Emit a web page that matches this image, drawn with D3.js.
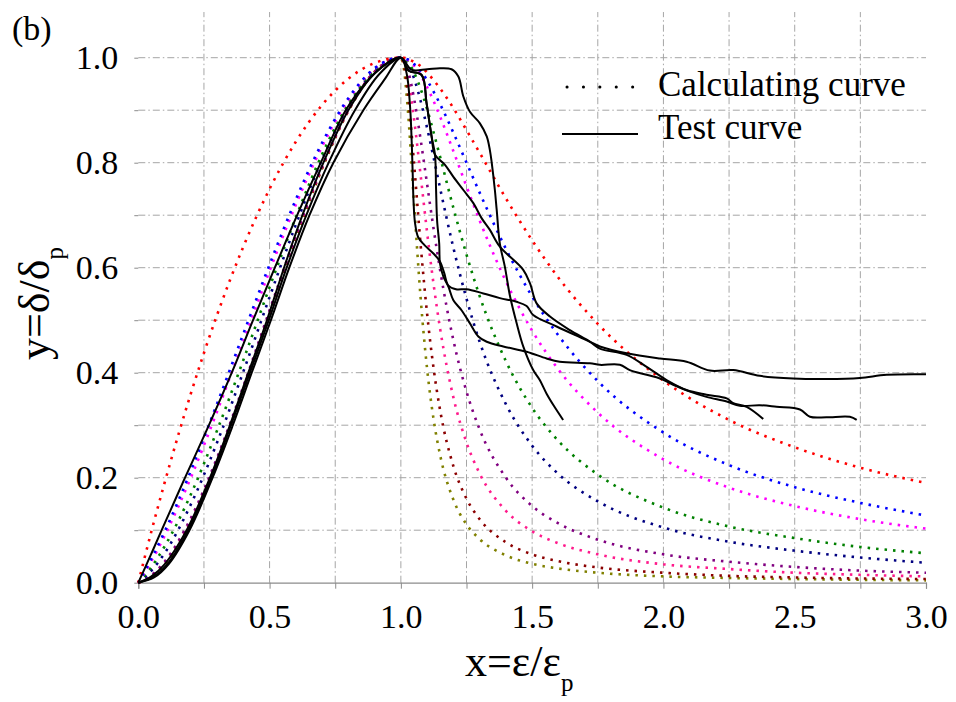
<!DOCTYPE html>
<html>
<head>
<meta charset="utf-8">
<script src="https://cdn.jsdelivr.net/npm/d3@7"></script>
<style>
  body { margin: 0; background: #fff; }
  svg text { font-family: "Liberation Serif", Tinos, "Times New Roman", Times, "DejaVu Serif", serif !important; fill: #000; }
</style>
</head>
<body>
<div id="chart"></div>
<script>
// axis ticks
const xGridVals = [0, 0.25, 0.5, 0.75, 1, 1.25, 1.5, 1.75, 2, 2.25, 2.5, 2.75, 3];
const xTickLabels = ["0.0", "0.5", "1.0", "1.5", "2.0", "2.5", "3.0"];
const yGridVals = [0, 0.1, 0.2, 0.3, 0.4, 0.5, 0.6, 0.7, 0.8, 0.9, 1.0];
const yTickLabels = ["0.0", "0.2", "0.4", "0.6", "0.8", "1.0"];

// calculating curves: rising branch sampled at ascX, falling branch at descX
const ascX = [0, 0.05, 0.1, 0.2, 0.3, 0.4, 0.5, 0.6, 0.7, 0.8, 0.9, 1.0];
const descX = [1.01, 1.025, 1.05, 1.075, 1.1, 1.125, 1.15, 1.2, 1.25, 1.3, 1.4, 1.5, 1.6, 1.75, 2.0, 2.25, 2.5, 2.75, 3.0];

const calcNames = ["red", "blue", "magenta", "green", "navy", "purple", "pink", "maroon", "olive"];
const calcColors = ["#ff0000", "#0000ff", "#ff00ff", "#008000", "#000080", "#800080", "#ff1a8c", "#8b0000", "#808000"];

const redUp     = [0, 0.098, 0.19, 0.36, 0.51, 0.64, 0.75, 0.84, 0.91, 0.96, 0.99, 1];
const blueUp    = [0, 0.046, 0.097, 0.213, 0.341, 0.474, 0.606, 0.730, 0.838, 0.923, 0.980, 1];
const magentaUp = [0, 0.041, 0.089, 0.200, 0.326, 0.460, 0.594, 0.720, 0.831, 0.920, 0.979, 1];
const greenUp   = [0, 0.030, 0.069, 0.168, 0.290, 0.424, 0.563, 0.696, 0.816, 0.912, 0.977, 1];
const navyUp    = [0, 0.023, 0.056, 0.149, 0.267, 0.402, 0.544, 0.682, 0.806, 0.907, 0.975, 1];
const purpleUp  = [0, 0.014, 0.040, 0.123, 0.238, 0.374, 0.519, 0.662, 0.793, 0.901, 0.973, 1];
const pinkUp    = [0, 0.013, 0.038, 0.119, 0.234, 0.369, 0.515, 0.660, 0.792, 0.900, 0.973, 1];
const maroonUp  = [0, 0.012, 0.036, 0.117, 0.231, 0.366, 0.513, 0.658, 0.790, 0.899, 0.973, 1];
const oliveUp   = [0, 0.011, 0.034, 0.114, 0.228, 0.364, 0.510, 0.656, 0.789, 0.899, 0.973, 1];

const redDown     = [1.0, 0.998, 0.992, 0.984, 0.972, 0.957, 0.941, 0.904, 0.862, 0.819, 0.732, 0.652, 0.581, 0.493, 0.385, 0.310, 0.258, 0.219, 0.190];
const blueDown    = [0.999, 0.997, 0.988, 0.975, 0.957, 0.935, 0.911, 0.857, 0.800, 0.743, 0.636, 0.545, 0.471, 0.384, 0.286, 0.224, 0.182, 0.152, 0.128];
const magentaDown = [0.999, 0.996, 0.985, 0.967, 0.944, 0.917, 0.887, 0.822, 0.755, 0.690, 0.574, 0.480, 0.406, 0.324, 0.235, 0.181, 0.146, 0.121, 0.103];
const greenDown   = [0.999, 0.993, 0.972, 0.941, 0.902, 0.857, 0.810, 0.714, 0.625, 0.546, 0.422, 0.333, 0.270, 0.206, 0.143, 0.107, 0.085, 0.068, 0.056];
const navyDown    = [0.998, 0.990, 0.961, 0.918, 0.866, 0.809, 0.750, 0.638, 0.541, 0.459, 0.340, 0.261, 0.207, 0.155, 0.105, 0.078, 0.061, 0.048, 0.038];
const purpleDown  = [0.997, 0.979, 0.923, 0.845, 0.759, 0.673, 0.594, 0.462, 0.364, 0.292, 0.200, 0.146, 0.113, 0.082, 0.054, 0.040, 0.030, 0.023, 0.019];
const pinkDown    = [0.995, 0.968, 0.884, 0.777, 0.667, 0.567, 0.482, 0.353, 0.267, 0.208, 0.137, 0.098, 0.075, 0.054, 0.035, 0.026, 0.019, 0.015, 0.012];
const maroonDown  = [0.990, 0.940, 0.800, 0.645, 0.512, 0.407, 0.327, 0.222, 0.160, 0.121, 0.077, 0.054, 0.041, 0.029, 0.019, 0.013, 0.010, 0.008, 0.007];
const oliveDown   = [0.984, 0.911, 0.724, 0.544, 0.407, 0.310, 0.242, 0.158, 0.111, 0.083, 0.052, 0.036, 0.027, 0.019, 0.012, 0.009, 0.007, 0.0055, 0.0045];

const calcUp = [redUp, blueUp, magentaUp, greenUp, navyUp, purpleUp, pinkUp, maroonUp, oliveUp];
const calcDown = [redDown, blueDown, magentaDown, greenDown, navyDown, purpleDown, pinkDown, maroonDown, oliveDown];

// test curves, [x, y] pairs
const testA = [[0,0],[0.045,0.05],[0.089,0.1],[0.178,0.2],[0.269,0.3],[0.356,0.4],[0.437,0.5],[0.52,0.6],[0.605,0.7],[0.695,0.8],[0.79,0.9],[0.88,0.96],[0.95,0.99],[1,1],
  [1.041,0.977],[1.1,0.978],[1.149,0.98],[1.193,0.978],[1.219,0.964],[1.238,0.926],[1.263,0.897],[1.301,0.875],[1.327,0.85],[1.339,0.824],[1.346,0.8],[1.358,0.748],[1.365,0.71],[1.377,0.646],[1.396,0.602],[1.416,0.545],[1.441,0.494],[1.466,0.45],[1.504,0.405],[1.529,0.386],[1.555,0.36],[1.585,0.335],[1.618,0.31]];
const testB = [[0,0],[0.05,0.012],[0.1,0.035],[0.184,0.1],[0.273,0.2],[0.349,0.3],[0.419,0.4],[0.49,0.5],[0.555,0.6],[0.625,0.7],[0.705,0.8],[0.8,0.9],[0.9,0.97],[1,1],
  [1.022,0.97],[1.035,0.907],[1.041,0.843],[1.045,0.78],[1.048,0.729],[1.054,0.685],[1.066,0.658],[1.09,0.643],[1.124,0.627],[1.149,0.612],[1.165,0.59],[1.181,0.566],[1.21,0.559],[1.25,0.559],[1.314,0.551],[1.377,0.542],[1.441,0.535],[1.479,0.527],[1.504,0.51],[1.593,0.488],[1.72,0.459],[1.758,0.45],[1.86,0.437],[1.987,0.427],[2.088,0.421],[2.177,0.404],[2.266,0.405],[2.367,0.394],[2.494,0.389],[2.621,0.388],[2.748,0.39],[2.85,0.396],[3.0,0.397]];
const testC = [[0,0],[0.06,0.012],[0.11,0.035],[0.19,0.1],[0.278,0.2],[0.353,0.3],[0.425,0.4],[0.497,0.5],[0.565,0.6],[0.64,0.7],[0.725,0.8],[0.825,0.9],[0.92,0.97],[1,1],
  [1.03,0.975],[1.079,0.967],[1.098,0.913],[1.117,0.85],[1.13,0.815],[1.168,0.796],[1.2,0.773],[1.238,0.748],[1.276,0.723],[1.308,0.694],[1.339,0.672],[1.377,0.64],[1.466,0.596],[1.492,0.57],[1.517,0.532],[1.568,0.507],[1.644,0.481],[1.72,0.459],[1.758,0.446],[1.86,0.434],[1.936,0.411],[2.012,0.386],[2.088,0.367],[2.164,0.358],[2.241,0.351],[2.266,0.342],[2.317,0.335],[2.38,0.312]];
const testD = [[0,0],[0.06,0.01],[0.115,0.035],[0.195,0.1],[0.283,0.2],[0.36,0.3],[0.432,0.4],[0.505,0.5],[0.575,0.6],[0.652,0.7],[0.743,0.8],[0.857,0.9],[0.94,0.96],[1,1],
  [1.03,0.975],[1.079,0.967],[1.098,0.913],[1.117,0.85],[1.13,0.815],[1.134,0.75],[1.138,0.69],[1.146,0.646],[1.149,0.608],[1.162,0.583],[1.181,0.564],[1.2,0.538],[1.231,0.519],[1.263,0.494],[1.295,0.469],[1.327,0.459],[1.39,0.45],[1.479,0.44],[1.555,0.427],[1.605,0.421],[1.72,0.418],[1.758,0.415],[1.834,0.415],[1.872,0.405],[1.936,0.396],[1.987,0.389],[2.037,0.377],[2.101,0.364],[2.164,0.354],[2.241,0.345],[2.291,0.337],[2.367,0.338],[2.431,0.335],[2.52,0.33],[2.558,0.316],[2.621,0.315],[2.71,0.316],[2.736,0.31]];
const testCurves = [testA, testB, testC, testD];

const legendLabels = ["Calculating curve", "Test curve"];

const width = 956, height = 702;
const gridTop = 1.087;   // vertical grid lines run a little above y = 1
const serif = "'Liberation Serif', Tinos, 'Times New Roman', Times, 'DejaVu Serif', serif";

const x = d3.scaleLinear().domain([0, 3]).range([138.3, 926]);
const y = d3.scaleLinear().domain([0, 1]).range([582.7, 57.7]);

const svg = d3.select("#chart").append("svg")
  .attr("width", width)
  .attr("height", height)
  .attr("font-family", serif)
  .style("background", "#fff");

// grid, dash-dot gray
const grid = svg.append("g")
  .attr("stroke", "#a6a6a6")
  .attr("stroke-width", 1)
  .attr("stroke-dasharray", "7,3,1.5,3");

grid.selectAll("line.v")
  .data(xGridVals.filter(d => d > 0 && d < 3))
  .join("line")
  .attr("class", "v")
  .attr("x1", d => x(d)).attr("x2", d => x(d))
  .attr("y1", y(0)).attr("y2", y(gridTop));

grid.selectAll("line.h")
  .data(yGridVals.filter(d => d > 0))
  .join("line")
  .attr("class", "h")
  .attr("x1", x(0)).attr("x2", x(3))
  .attr("y1", d => y(d)).attr("y2", d => y(d));

// x axis
const xAxis = svg.append("g")
  .attr("transform", `translate(0,${y(0)})`)
  .call(d3.axisBottom(x)
    .tickValues(xGridVals)
    .tickSize(6)
    .tickFormat(d => {
      const i = xTickLabels.indexOf(d.toFixed(1));
      return (d * 2) % 1 === 0 && i >= 0 ? xTickLabels[i] : "";
    }));
xAxis.attr("font-family", serif);
xAxis.select(".domain").attr("stroke", "#8c8c8c").attr("stroke-width", 1.2);
xAxis.selectAll(".tick line").attr("stroke", "#8c8c8c");
xAxis.selectAll("text")
  .attr("y", 45.5).attr("dy", null)
  .attr("font-size", 34)
  .attr("fill", "#000");

// y axis: ticks only
const yAxis = svg.append("g")
  .attr("transform", `translate(${x(0)},0)`)
  .call(d3.axisLeft(y)
    .tickValues(yGridVals)
    .tickSize(4)
    .tickFormat(d => {
      const i = yTickLabels.indexOf(d.toFixed(1));
      return i >= 0 ? yTickLabels[i] : "";
    }));
yAxis.attr("font-family", serif);
yAxis.select(".domain").remove();
yAxis.selectAll(".tick line").attr("stroke", "#8c8c8c");
yAxis.selectAll("text")
  .attr("x", -20).attr("dy", "11px")
  .attr("font-size", 34)
  .attr("fill", "#000");

// calculating curves (dotted)
const smooth = d3.line()
  .x(d => x(d[0]))
  .y(d => y(d[1]))
  .curve(d3.curveMonotoneX);

const calcData = calcNames.map((name, i) => ({
  name,
  color: calcColors[i],
  points: ascX.map((v, j) => [v, calcUp[i][j]]).concat(descX.map((v, j) => [v, calcDown[i][j]]))
}));

svg.append("g")
  .selectAll("path")
  .data(calcData.slice().reverse())
  .join("path")
  .attr("d", d => smooth(d.points))
  .attr("fill", "none")
  .attr("stroke", d => d.color)
  .attr("stroke-width", 2.6)
  .attr("stroke-dasharray", "2.5,6");

// test curves (solid black)
const wiggly = d3.line()
  .x(d => x(d[0]))
  .y(d => y(d[1]))
  .curve(d3.curveCatmullRom.alpha(0.5));

svg.append("g")
  .selectAll("path")
  .data(testCurves)
  .join("path")
  .attr("d", d => wiggly(d))
  .attr("fill", "none")
  .attr("stroke", "#000")
  .attr("stroke-width", 2)
  .attr("stroke-linejoin", "round");

// legend
const legend = svg.append("g");
legend.append("line")
  .attr("x1", 567).attr("x2", 634).attr("y1", 87).attr("y2", 87)
  .attr("stroke", "#000").attr("stroke-width", 3)
  .attr("stroke-linecap", "round")
  .attr("stroke-dasharray", "0.1,16.3");
legend.append("line")
  .attr("x1", 562).attr("x2", 638).attr("y1", 134).attr("y2", 134)
  .attr("stroke", "#000").attr("stroke-width", 2);
legend.selectAll("text")
  .data(legendLabels)
  .join("text")
  .attr("x", 658)
  .attr("y", (d, i) => i === 0 ? 95.5 : 138.5)
  .attr("font-size", 35)
  .text(d => d);

// panel label
svg.append("text")
  .attr("x", 12).attr("y", 40)
  .attr("font-size", 34)
  .text("(b)");

// axis titles
const xt = svg.append("text")
  .attr("x", 465).attr("y", 676)
  .attr("font-size", 44)
  .text("x=ε/ε");
xt.append("tspan").attr("dy", 15).attr("font-size", 25).text("p");

const yt = svg.append("text")
  .attr("transform", "translate(49,360) rotate(-90)")
  .attr("font-size", 44)
  .text("y=δ/δ");
yt.append("tspan").attr("dy", 14).attr("font-size", 25).text("p");
</script>
</body>
</html>
